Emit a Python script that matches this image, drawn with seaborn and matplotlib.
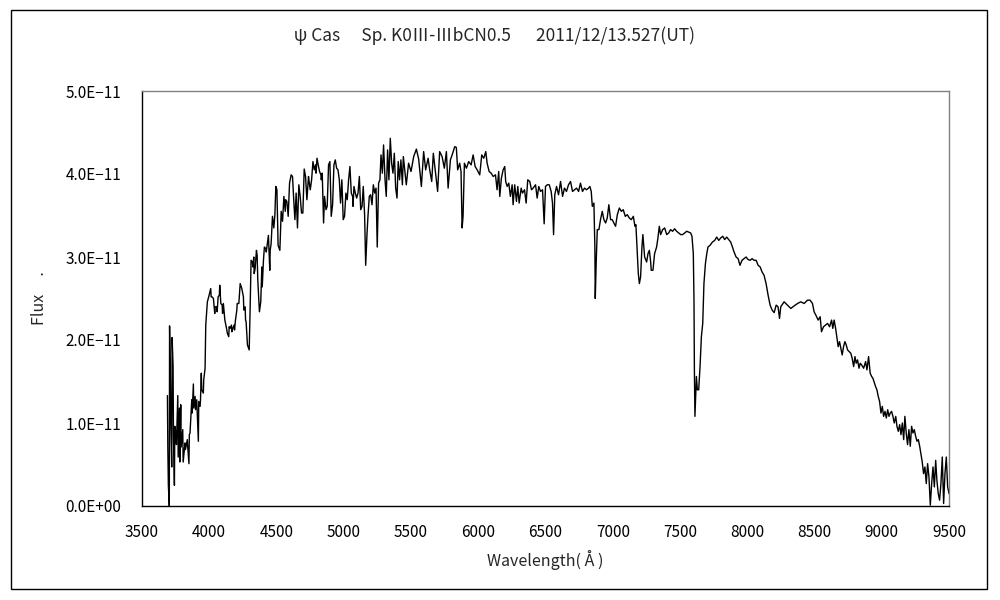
import matplotlib
matplotlib.use("Agg")
import matplotlib.pyplot as plt
from matplotlib.patches import Rectangle
from matplotlib.ticker import FuncFormatter
import seaborn as sns
import pandas as pd

# ---- data (flux in units of 1e-11) ----
wl_blue = [3689, 3692, 3696, 3703, 3705, 3711, 3714, 3721, 3724, 3731, 3734, 3741, 3744, 3753, 3756,
           3766, 3769, 3778, 3781, 3788, 3791, 3803, 3806, 3820, 3823, 3837, 3840, 3849, 3852, 3857,
           3870, 3873, 3882, 3885, 3895, 3898, 3907, 3919, 3922, 3932, 3935, 3941, 3944, 3956, 3959,
           3969, 3974, 3986, 3996]
fx_blue = [1.33, 0.71, 0.25, 0.00, 2.17, 1.52, 1.02, 0.47, 2.03, 1.69, 0.82, 0.25, 0.96, 0.85, 0.74,
           1.33, 0.59, 1.18, 0.53, 1.22, 0.71, 0.92, 0.53, 0.76, 0.68, 0.80, 0.71, 0.51, 0.86, 0.88,
           1.28, 1.12, 1.47, 1.18, 1.32, 1.16, 1.28, 0.78, 1.26, 1.20, 1.28, 1.60, 1.40, 1.36, 1.52,
           1.66, 2.18, 2.46, 2.52]

wl_violet = [4011, 4014, 4021, 4031, 4041, 4044, 4056, 4059, 4066, 4075, 4078, 4086, 4096, 4099, 4105,
             4116, 4126, 4135, 4145, 4148, 4155, 4165, 4168, 4175, 4185, 4188, 4195, 4205, 4208, 4220,
             4230, 4242, 4254, 4257, 4267, 4270, 4274, 4284, 4297, 4304, 4311, 4321, 4324, 4331, 4334,
             4341, 4351, 4356, 4361, 4373, 4383, 4391, 4394, 4403, 4410, 4421, 4424, 4430, 4440, 4450,
             4453, 4460, 4470, 4480, 4488]
fx_violet = [2.62, 2.52, 2.52, 2.50, 2.32, 2.40, 2.40, 2.34, 2.52, 2.54, 2.66, 2.44, 2.42, 2.32, 2.44,
             2.24, 2.16, 2.08, 2.04, 2.16, 2.14, 2.18, 2.10, 2.14, 2.18, 2.12, 2.24, 2.36, 2.44, 2.44,
             2.68, 2.62, 2.52, 2.36, 2.40, 2.24, 2.22, 1.94, 1.88, 2.38, 2.96, 2.94, 2.88, 3.00, 2.80,
             2.86, 3.08, 3.02, 2.72, 2.34, 2.46, 2.88, 2.64, 2.96, 3.12, 3.10, 3.06, 3.14, 3.26, 2.84,
             3.08, 3.16, 3.49, 3.35, 3.51]

wl_green = [4495, 4503, 4512, 4525, 4535, 4545, 4555, 4565, 4568, 4577, 4587, 4597, 4609, 4619, 4630,
            4637, 4646, 4656, 4666, 4676, 4686, 4696, 4706, 4716, 4726, 4738, 4741, 4751, 4761, 4771,
            4781, 4791, 4794, 4801, 4810, 4820, 4830, 4833, 4840, 4850, 4857, 4868, 4877, 4887, 4897,
            4907, 4917, 4927, 4937, 4947, 4957, 4967, 4976, 4986, 4996, 5006, 5016, 5026, 5036, 5046,
            5056, 5066, 5069, 5076, 5086, 5096, 5106, 5116, 5126, 5136, 5145, 5155, 5163, 5173, 5180,
            5190, 5200, 5210, 5220, 5230, 5240, 5249, 5259, 5269, 5277, 5287, 5296, 5307, 5316, 5326,
            5336, 5346, 5356, 5366, 5376, 5386, 5396, 5405, 5415, 5425]
fx_green = [3.85, 3.81, 3.14, 3.08, 3.55, 3.43, 3.73, 3.55, 3.69, 3.67, 3.49, 3.89, 3.99, 3.97, 3.63,
            3.45, 3.77, 3.35, 3.87, 3.73, 3.53, 3.53, 4.06, 3.97, 3.69, 3.97, 3.93, 3.81, 3.93, 4.15,
            4.05, 4.11, 4.01, 4.19, 4.11, 4.03, 3.99, 3.93, 4.01, 3.41, 3.73, 3.57, 3.61, 4.11, 4.15,
            3.49, 3.63, 4.11, 4.17, 4.07, 4.05, 3.93, 3.65, 3.93, 3.45, 3.49, 3.77, 3.69, 3.93, 4.09,
            3.77, 3.73, 3.61, 3.85, 3.77, 3.71, 3.77, 3.97, 3.57, 3.61, 3.85, 3.51, 2.90, 3.28, 3.49,
            3.73, 3.75, 3.63, 3.87, 3.77, 3.83, 3.12, 3.89, 3.93, 4.23, 4.01, 4.35, 3.93, 3.73, 4.29,
            3.93, 4.43, 4.13, 4.01, 4.25, 3.83, 3.71, 4.15, 3.93, 4.17]

wl_yellow = [5436, 5443, 5465, 5482, 5500, 5520, 5540, 5557, 5577, 5594, 5609, 5627, 5639, 5654, 5666,
             5681, 5698, 5713, 5731, 5748, 5763, 5776, 5793, 5810, 5825, 5837, 5847, 5862, 5872, 5880,
             5887, 5897, 5912, 5929, 5947, 5962, 5977, 5992, 6011, 6026, 6041, 6056, 6066, 6081, 6096,
             6111, 6128, 6140, 6152, 6160, 6172, 6185, 6197, 6204, 6215, 6227, 6239, 6252, 6259, 6271,
             6284, 6294, 6304, 6319, 6329, 6344, 6356, 6368, 6383, 6396, 6408, 6426, 6438, 6450, 6463,
             6478, 6490, 6500, 6513, 6528, 6542, 6552, 6560, 6569, 6582, 6597, 6612, 6627, 6641, 6656,
             6671, 6686, 6701, 6716, 6731, 6746, 6760, 6775, 6790, 6805, 6820, 6830, 6840, 6848, 6860,
             6867, 6870, 6877, 6885]
fx_yellow = [3.87, 4.21, 3.87, 4.13, 4.03, 4.21, 4.30, 4.18, 3.85, 4.27, 4.05, 4.19, 4.05, 3.91, 4.25,
             4.03, 3.79, 4.27, 4.21, 4.07, 4.27, 3.83, 4.17, 4.25, 4.33, 4.32, 4.05, 4.13, 4.03, 3.35,
             3.49, 4.13, 4.07, 4.15, 4.11, 4.23, 4.09, 4.05, 3.99, 4.23, 4.19, 4.27, 4.13, 4.03, 4.01,
             3.97, 3.99, 3.81, 4.03, 3.73, 3.95, 4.05, 4.09, 3.91, 3.85, 3.89, 3.73, 3.87, 3.63, 3.87,
             3.67, 3.85, 3.65, 3.83, 3.77, 3.81, 3.65, 3.93, 3.91, 3.81, 3.83, 3.87, 3.71, 3.85, 3.79,
             3.81, 3.40, 3.85, 3.87, 3.87, 3.79, 3.65, 3.27, 3.75, 3.85, 3.75, 3.91, 3.73, 3.83, 3.79,
             3.87, 3.91, 3.79, 3.81, 3.83, 3.79, 3.89, 3.79, 3.83, 3.81, 3.83, 3.85, 3.79, 3.61, 3.65,
             3.12, 2.50, 2.94, 3.33]

wl_red = [6897, 6909, 6922, 6934, 6947, 6959, 6971, 6984, 6996, 7008, 7021, 7034, 7049, 7064, 7078,
          7093, 7108, 7123, 7138, 7153, 7165, 7172, 7183, 7190, 7198, 7207, 7217, 7224, 7237, 7252,
          7262, 7272, 7282, 7286, 7299, 7311, 7326, 7336, 7346, 7356, 7371, 7386, 7401, 7416, 7430,
          7445, 7460, 7475, 7490, 7505, 7520, 7535, 7550, 7564, 7579, 7589, 7599, 7604, 7607, 7611,
          7622, 7629, 7639, 7649, 7659, 7669, 7678, 7689, 7699, 7708, 7723, 7741, 7758, 7773, 7788,
          7803, 7818, 7832, 7847, 7862, 7877, 7890, 7902, 7917, 7932, 7946, 7961, 7976, 7991, 8006,
          8021, 8036, 8051, 8066, 8081, 8096, 8110, 8125, 8140, 8155, 8170, 8185, 8200, 8215, 8229,
          8240, 8249]
fx_red = [3.33, 3.45, 3.55, 3.45, 3.41, 3.47, 3.63, 3.45, 3.45, 3.41, 3.37, 3.51, 3.59, 3.55, 3.57,
          3.49, 3.51, 3.47, 3.45, 3.49, 3.37, 3.39, 3.04, 2.80, 2.68, 2.76, 3.12, 3.27, 3.00, 2.94,
          3.04, 3.08, 2.94, 2.84, 2.84, 3.04, 3.12, 3.23, 3.37, 3.27, 3.33, 3.35, 3.27, 3.29, 3.33,
          3.31, 3.34, 3.31, 3.29, 3.27, 3.27, 3.29, 3.31, 3.30, 3.29, 3.25, 3.04, 2.48, 1.64, 1.08,
          1.56, 1.40, 1.40, 1.68, 2.04, 2.20, 2.68, 2.92, 3.04, 3.12, 3.14, 3.18, 3.20, 3.24, 3.20,
          3.23, 3.25, 3.21, 3.24, 3.21, 3.18, 3.12, 3.06, 3.00, 2.98, 2.90, 2.96, 2.98, 3.00, 2.97,
          2.96, 2.98, 2.96, 2.96, 2.90, 2.88, 2.82, 2.78, 2.68, 2.54, 2.42, 2.36, 2.33, 2.42, 2.40,
          2.26, 2.40]

wl_nir = [8274, 8299, 8324, 8348, 8374, 8398, 8423, 8448, 8467, 8485, 8497, 8510, 8527, 8542, 8552,
          8567, 8582, 8597, 8612, 8627, 8636, 8646, 8657, 8666, 8676, 8686, 8696, 8706, 8716, 8726,
          8736, 8746, 8758, 8770, 8780, 8791, 8801, 8810, 8820, 8831, 8840, 8850, 8865, 8880, 8890,
          8902, 8914, 8925, 8934, 8944, 8954, 8964, 8974, 8984, 8994, 9004, 9014, 9024, 9034, 9044,
          9054, 9063, 9073, 9083, 9093, 9104, 9113, 9123, 9133, 9143, 9153, 9163, 9172, 9182, 9192,
          9202, 9212, 9222, 9232, 9242, 9252, 9262, 9272, 9282, 9291, 9301, 9311, 9321, 9331, 9341,
          9351, 9361, 9371, 9381, 9391, 9401, 9410, 9420, 9430, 9440, 9450, 9460, 9470, 9480, 9490,
          9500]
fx_nir = [2.46, 2.42, 2.38, 2.41, 2.44, 2.46, 2.44, 2.48, 2.48, 2.44, 2.34, 2.30, 2.24, 2.28, 2.10,
          2.16, 2.18, 2.20, 2.16, 2.24, 2.14, 2.24, 2.14, 2.04, 1.92, 1.98, 1.90, 1.82, 1.92, 1.98,
          1.94, 1.88, 1.86, 1.84, 1.78, 1.68, 1.80, 1.72, 1.76, 1.66, 1.72, 1.70, 1.66, 1.74, 1.64,
          1.80, 1.60, 1.56, 1.54, 1.49, 1.44, 1.40, 1.32, 1.26, 1.12, 1.20, 1.08, 1.14, 1.06, 1.16,
          1.08, 1.12, 1.14, 1.08, 1.00, 1.08, 0.96, 0.90, 0.98, 0.86, 1.00, 0.80, 1.08, 0.88, 0.74,
          0.92, 0.72, 0.96, 0.88, 0.92, 0.84, 0.78, 0.80, 0.72, 0.63, 0.53, 0.39, 0.47, 0.27, 0.51,
          0.35, 0.01, 0.27, 0.47, 0.23, 0.55, 0.31, 0.15, 0.07, 0.27, 0.59, 0.03, 0.39, 0.59, 0.23,
          0.15]

x_ticks = [3500, 4000, 4500, 5000, 5500, 6000, 6500, 7000, 7500, 8000, 8500, 9000, 9500]
y_ticks = [0, 1, 2, 3, 4, 5]

title = "ψ Cas\u3000 Sp. K0Ⅲ-ⅢbCN0.5\u3000  2011/12/13.527(UT)"
xlabel = "Wavelength( Å )"
ylabel = "Flux     ."

df = pd.DataFrame({
    "wl": wl_blue + wl_violet + wl_green + wl_yellow + wl_red + wl_nir,
    "flux": fx_blue + fx_violet + fx_green + fx_yellow + fx_red + fx_nir,
})

sns.set_style("white")
plt.rcParams["font.family"] = ["Noto Sans CJK JP", "DejaVu Sans"]

fig = plt.figure(figsize=(10, 6), dpi=100)
fig.patch.set_facecolor("white")
ax = fig.add_axes([0.142, 1 - 506 / 600, 0.807, 415 / 600])

sns.lineplot(data=df, x="wl", y="flux", ax=ax, color="black", linewidth=1.0,
             estimator=None, sort=False)

ax.set_xlim(3500, 9500)
ax.set_ylim(0, 5)
ax.set_xticks(x_ticks)
ax.set_yticks(y_ticks)
ax.yaxis.set_major_formatter(FuncFormatter(lambda v, p: f"{v * 1e-11:.1E}".replace("-", "−")))
ax.tick_params(axis="both", direction="in", length=5, width=1, color="black",
               labelsize=11, labelcolor="black")
ax.tick_params(axis="y", pad=15)
ax.tick_params(axis="x", pad=13)
ax.set_xlabel("")
ax.set_ylabel("")

for s in ["left", "bottom"]:
    ax.spines[s].set_color("black")
    ax.spines[s].set_linewidth(1)
for s in ["top", "right"]:
    ax.spines[s].set_color("#808080")
    ax.spines[s].set_linewidth(1)

fig.text(0.494, 1 - 36 / 600, title, ha="center", va="center", fontsize=12.5)
fig.text(0.545, 1 - 560 / 600, xlabel, ha="center", va="center", fontsize=11.5)
fig.text(0.040, 1 - 298 / 600, ylabel, ha="center", va="center", fontsize=11.5, rotation=90)

fig.patches.append(Rectangle((11 / 1000, 1 - 589 / 600), 976 / 1000, 579 / 600,
                             transform=fig.transFigure, fill=False, edgecolor="black",
                             linewidth=1))

fig.savefig("out.png", dpi=100)
